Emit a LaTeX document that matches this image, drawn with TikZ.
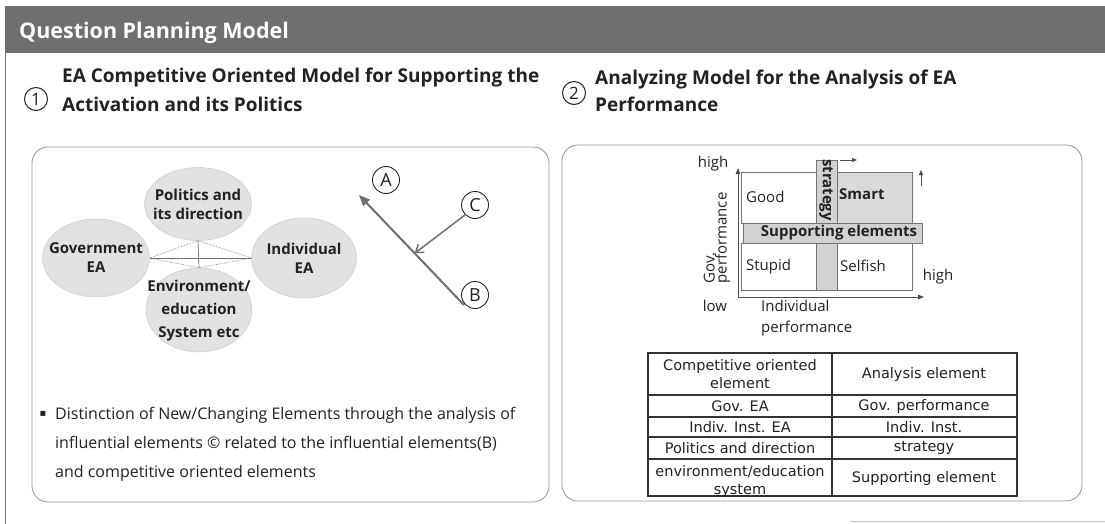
\documentclass[tikz,border=0pt]{standalone}
\usepackage{fontspec}
\setmainfont{Open Sans}
\newfontfamily\djv{DejaVu Sans}
\usetikzlibrary{shapes.geometric,arrows.meta,calc}
\definecolor{hdrgray}{HTML}{6F6F6F}
\definecolor{ink}{HTML}{222222}
\definecolor{blobfill}{HTML}{E2E2E2}
\definecolor{barfill}{HTML}{D2D2D2}
\definecolor{smartfill}{HTML}{DADADA}
\definecolor{lineg}{HTML}{707070}
\begin{document}
\begin{tikzpicture}[x=1pt,y=-1pt,
  panel/.style={draw=black!42, line width=0.8pt, rounded corners=16pt},
  blob/.style={ellipse, fill=blobfill, draw=black!22, line width=0.4pt, inner sep=0pt},
  blobtxt/.style={font=\fontsize{15}{19}\selectfont\bfseries, text=ink, align=center, inner sep=0pt},
  letter/.style={circle, draw=black!85, line width=0.9pt, minimum size=27pt, inner sep=0pt, font=\fontsize{18}{18}\selectfont, text=ink, fill=white},
  numc/.style={circle, draw=ink, line width=1pt, minimum size=23pt, inner sep=0pt, font=\fontsize{17}{17}\selectfont, text=ink},
  ttl/.style={anchor=base west, inner sep=0pt, font=\fontsize{19}{21}\selectfont\bfseries, text=ink},
  body/.style={anchor=base west, inner sep=0pt, font=\fontsize{16}{16}\selectfont, text=ink},
  qbox/.style={draw=black!55, line width=0.6pt, inner sep=0pt, anchor=north west},
  qtxt/.style={font=\fontsize{15}{16}\selectfont, text=ink, inner sep=0pt},
  qbold/.style={font=\fontsize{15}{16}\selectfont\bfseries, text=ink, inner sep=0pt},
  tcell/.style={font=\djv\fontsize{14.5}{17}\selectfont, text=ink, align=center, inner sep=0pt},
  tline/.style={draw=black!80, line width=1.1pt},
  ax/.style={draw=black!70, line width=1pt, -{Triangle[length=6pt,width=4.5pt]}},
  smallarrow/.style={draw=black!70, line width=0.8pt, -{Triangle[length=5pt,width=4pt]}},
]
\useasboundingbox (0,0) rectangle (1105,524);
\fill[white] (0,0) rectangle (1105,524);

% header
\fill[hdrgray] (5,6) rectangle (1105,53);
\node[anchor=base west, inner sep=0pt, font=\fontsize{21.5}{21.5}\selectfont\bfseries, text=white] (hdr) at (19,39) {Question Planning Model};
\draw[black!55, line width=1pt] (5,53) -- (5,524);
\draw[black!22, line width=0.8pt] (850,521) -- (1105,521);

% titles
\node[numc] (n1) at (36,99) {1};
\node[ttl] (t1a) at (62,83) {EA Competitive Oriented Model for Supporting the};
\node[ttl] (t1b) at (62,112) {Activation and its Politics};
\node[numc] (n2) at (574,93) {2};
\node[ttl] (t2a) at (595,85) {Analyzing Model for the Analysis of EA};
\node[ttl] (t2b) at (595,112) {Performance};

% panels
\draw[panel] (32,147) rectangle (549,502);
\draw[panel] (562,145) rectangle (1082,501);

% ellipses
\node[blob, minimum width=107pt, minimum height=73pt] (pol) at (198,204) {};
\node[blob, minimum width=107pt, minimum height=78pt] (gov) at (96,258) {};
\node[blob, minimum width=105pt, minimum height=80pt] (ind) at (304,258) {};
\node[blob, minimum width=106pt, minimum height=84pt] (env) at (199,310) {};
\draw[lineg, densely dotted, line width=0.6pt] (gov.east) -- (pol.south) -- (ind.west) -- (env.north) -- cycle;
\draw[lineg, line width=0.7pt] (gov.east) -- (ind.west);
\draw[lineg, line width=0.7pt] (pol.south) -- (env.north);
\node[blobtxt] (polt) at (198,204) {Politics and\\its direction};
\node[blobtxt] (govt) at (96,258) {Government\\EA};
\node[blobtxt] (indt) at (304,258) {Individual\\EA};
\node[blobtxt, font=\fontsize{15}{23}\selectfont\bfseries] (envt) at (199,311) {Environment/\\education\\System etc};

% A B C arrows
\coordinate (mt) at (464,305);
\coordinate (mh) at (359,195);
\coordinate (hit) at ($(mt)!0.47!(mh)$);
\draw[lineg, line width=2pt, -{Triangle[length=11pt,width=9pt]}] (mt) -- (mh);
\node[letter] (a) at (386,180) {A};
\node[letter] (c) at (475,205) {C};
\node[letter] (b) at (475,295) {B};
\draw[lineg, line width=1.5pt, -{Straight Barb[length=7pt,width=10pt]}] (c.225) -- (hit);

% bullet text
\node[font=\djv\fontsize{10}{10}\selectfont, text=ink, inner sep=0pt] (bul) at (43,414) {▪};
\node[body] (bl1) at (55,419) {Distinction of New/Changing Elements through the analysis of};
\node[body] (bl2) at (55,448) {influential elements © related to the influential elements(B)};
\node[body] (bl3) at (55,477) {and competitive oriented elements};

% quadrant
\node[qbox, fill=white, minimum width=75pt, minimum height=51pt] (good) at (741,172) {};
\node[qbox, fill=smartfill, minimum width=75pt, minimum height=51pt] (smart) at (837,172) {};
\node[qbox, fill=white, minimum width=75pt, minimum height=47pt] (stupid) at (741,243) {};
\node[qbox, fill=white, minimum width=75pt, minimum height=47pt] (selfish) at (837,243) {};
\node[qbox, fill=barfill, minimum width=21pt, minimum height=130pt] (strat) at (816,160) {};
\node[qbox, fill=barfill, minimum width=179pt, minimum height=20pt] (sup) at (743,223) {};
\node[qbold, rotate=-90] (stratt) at (826,190) {strategy};
\node[qbold] (supt) at (839,233) {Supporting elements};
\node[qtxt, anchor=west] (goodt) at (746,197) {Good};
\node[qbold, anchor=west] (smartt) at (839,194) {Smart};
\node[qtxt, anchor=west] (stupidt) at (746,267) {Stupid};
\node[qtxt, anchor=west] (selfisht) at (840,266) {Selfish};
\coordinate (org) at (738,297);
\coordinate (ytop) at (738,168);
\coordinate (xend) at (924,297);
\draw[ax] (org) -- (ytop);
\draw[ax] (org) -- (xend);
\coordinate (sa1) at (840,160);
\coordinate (sa2) at (857,160);
\draw[smallarrow] (sa1) -- (sa2);
\coordinate (sb1) at (921,186);
\coordinate (sb2) at (921,170);
\draw[smallarrow] (sb1) -- (sb2);
\node[qtxt] (hi1) at (713,164) {high};
\node[qtxt] (lo) at (715,306) {low};
\node[qtxt] (hi2) at (938,277) {high};
\node[qtxt, anchor=north west, align=left, font=\fontsize{15}{21}\selectfont] (indiv) at (761,300) {Individual\\performance};
\node[qtxt, rotate=90, align=left, font=\fontsize{15}{12}\selectfont] (govp) at (717,238) {Gov.\\performance};

% table
\coordinate (tl) at (648,353);
\coordinate (br) at (1017,496);
\draw[tline] (tl) rectangle (br);
\draw[tline] (832,353) -- (832,496);
\draw[tline] (648,395) -- (1017,395);
\draw[tline] (648,417) -- (1017,417);
\draw[tline] (648,437) -- (1017,437);
\draw[tline] (648,459) -- (1017,459);
\node[tcell, font=\djv\fontsize{14.5}{18}\selectfont] (h1) at (740,374) {Competitive oriented\\element};
\node[tcell] (h2) at (924,374) {Analysis element};
\node[tcell] (r1a) at (740,406) {Gov. EA};
\node[tcell] (r1b) at (924,406) {Gov. performance};
\node[tcell] (r2a) at (740,427) {Indiv. Inst. EA};
\node[tcell] (r2b) at (924,427) {Indiv. Inst.};
\node[tcell] (r3a) at (740,448) {Politics and direction};
\node[tcell] (r3b) at (924,448) {strategy};
\node[tcell, font=\djv\fontsize{14.5}{18}\selectfont] (r4a) at (740,481) {environment/education\\system};
\node[tcell] (r4b) at (924,478) {Supporting element};
\end{tikzpicture}
\end{document}
